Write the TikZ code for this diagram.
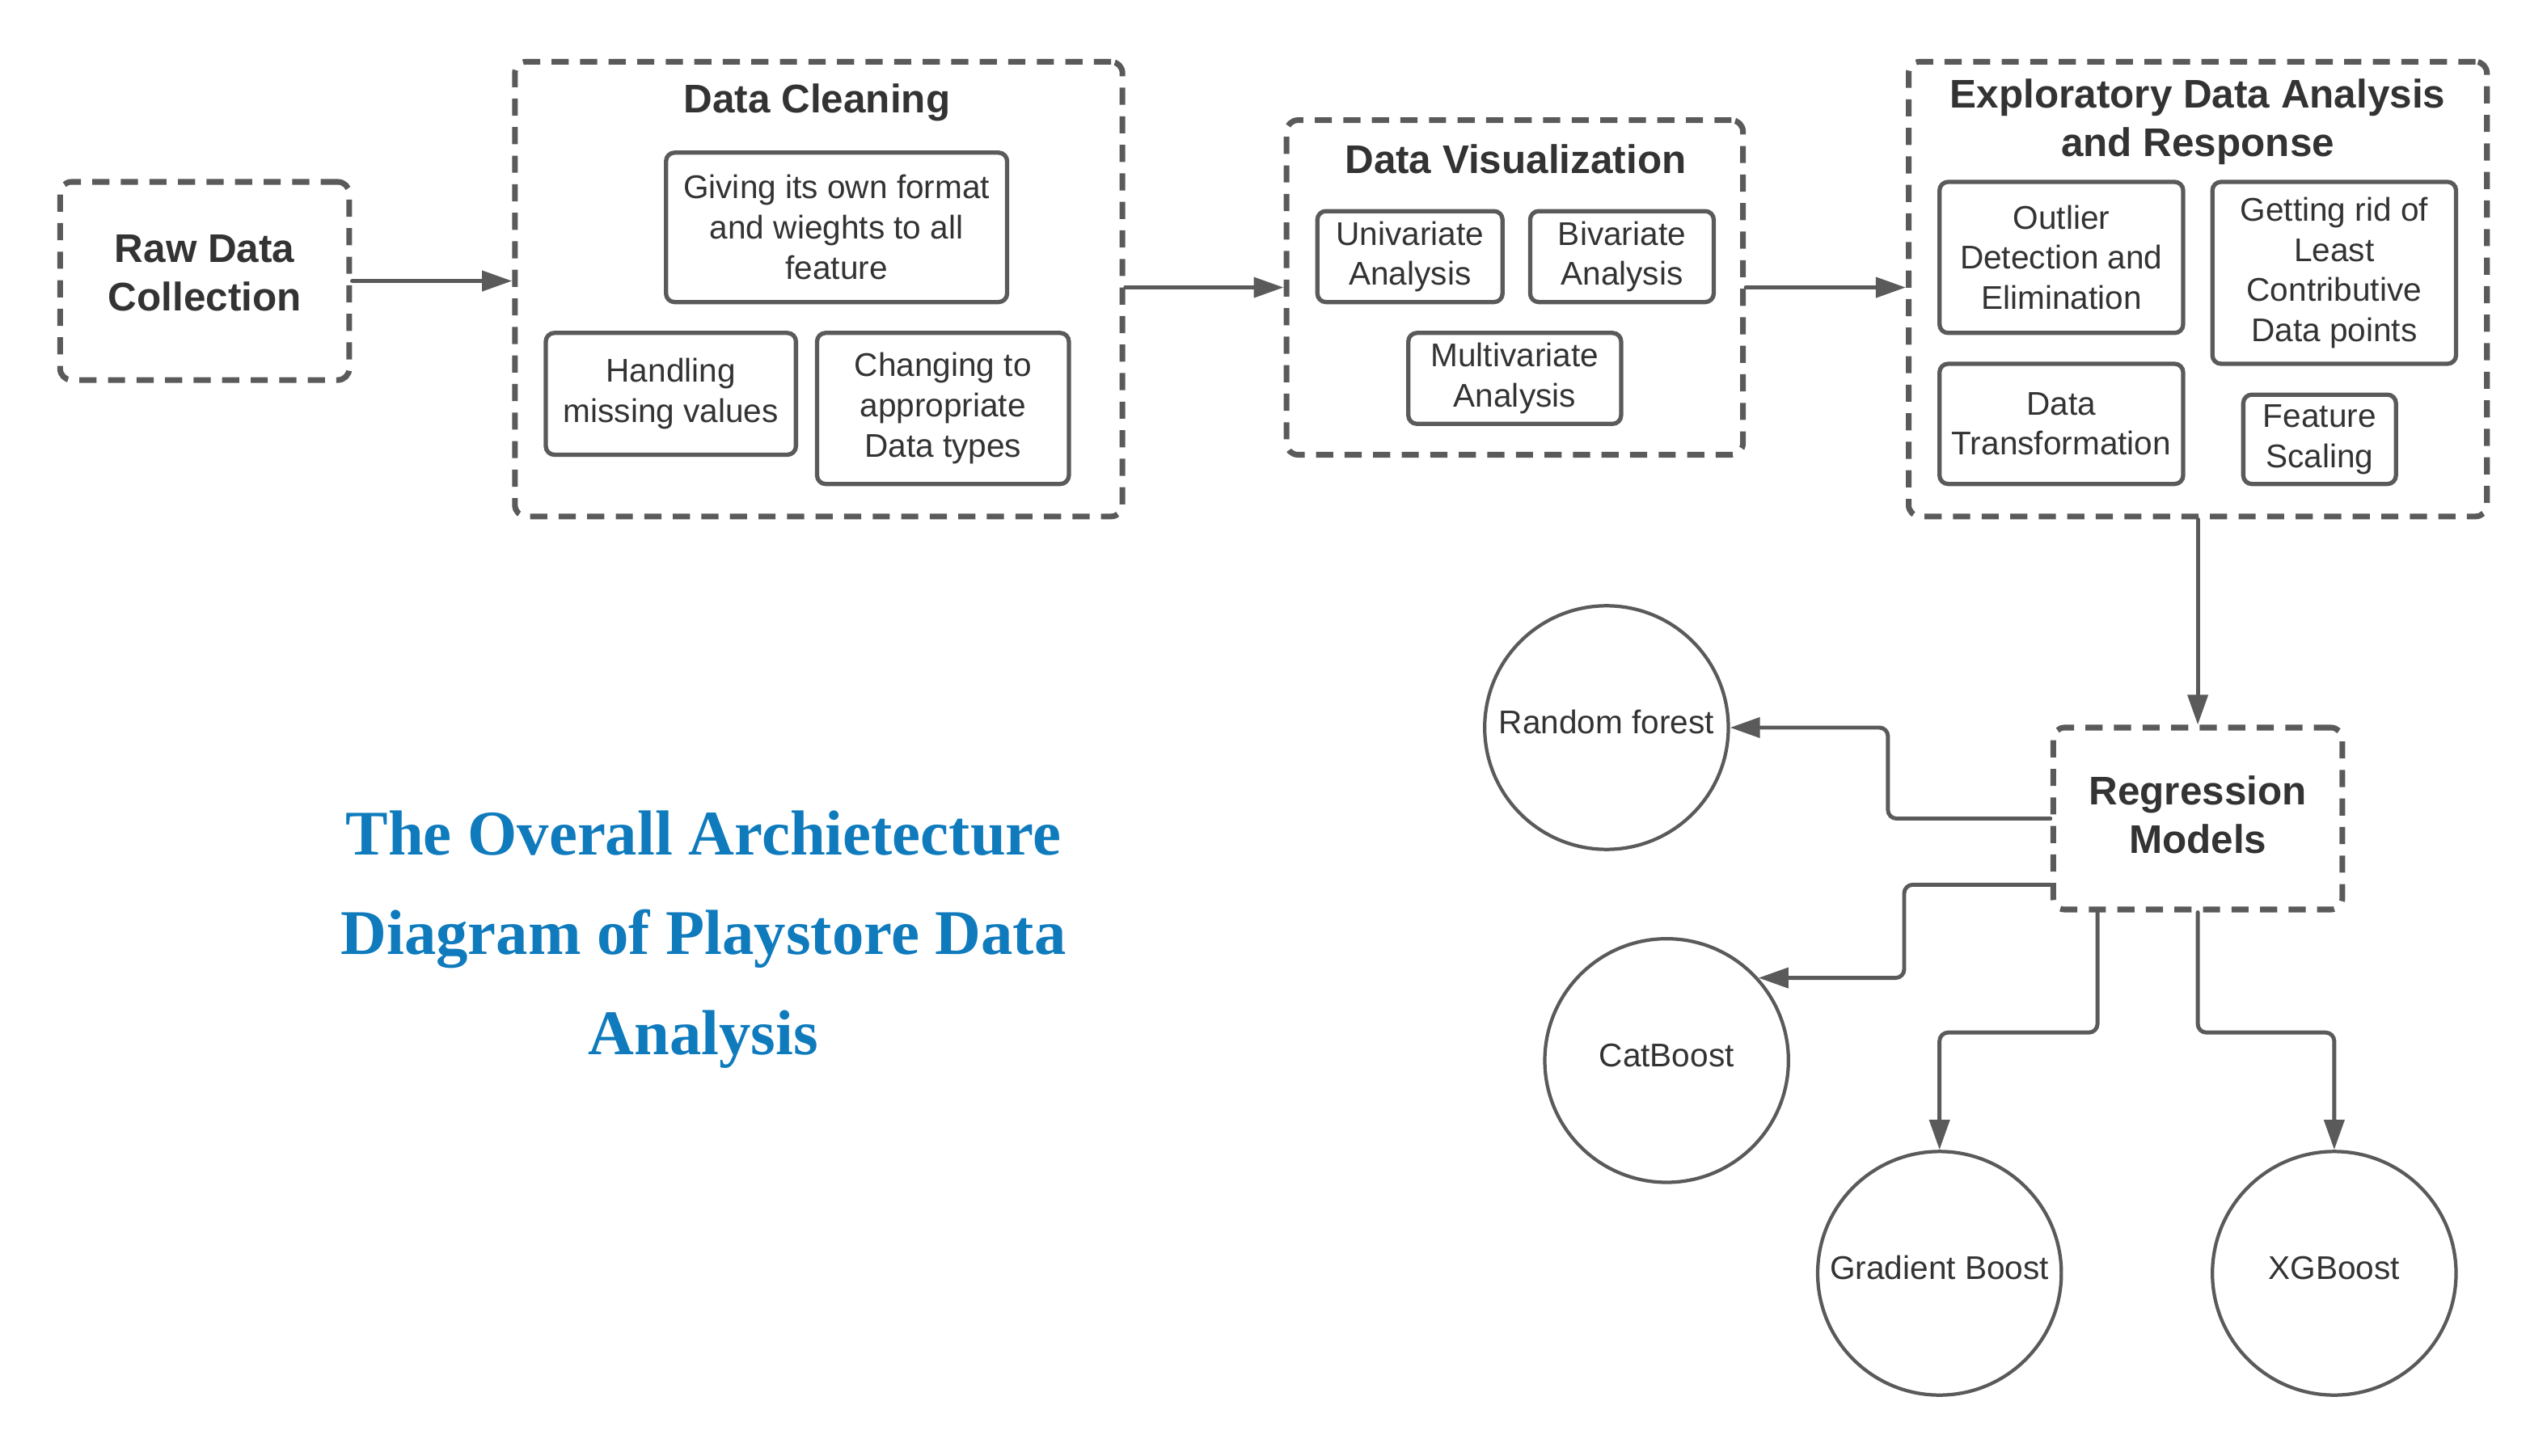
\documentclass[tikz,border=0pt]{standalone}
\usepackage{fontspec}
\setmainfont{Liberation Sans}
\newfontfamily\titlefont{Liberation Serif}
\usepackage{tikz}
\usetikzlibrary{arrows.meta}
\usepackage{xcolor}
\definecolor{linegray}{HTML}{5A5A5A}
\definecolor{textgray}{HTML}{333333}
\definecolor{titleblue}{HTML}{0F7BBD}

\begin{document}
\begin{tikzpicture}[>={Triangle[length=10.5pt,width=7pt]},line cap=round,
  group/.style={draw=linegray,line width=2pt,line cap=butt,dash pattern=on 6pt off 4pt,rounded corners=4pt},
  heading/.style={align=center,text=textgray,font=\fontsize{14}{17}\selectfont\bfseries},
  task/.style={draw=linegray,line width=1.5pt,rounded corners=3pt,align=center,inner sep=0pt,text=textgray,font=\fontsize{11.5}{14.1}\selectfont},
  model/.style={circle,draw=linegray,line width=1.2pt,minimum size=3cm,inner sep=0pt,text height=8.5pt,text depth=4pt,text=textgray,font=\fontsize{11.5}{14.1}\selectfont},
  flow/.style={->,draw=linegray,line width=1.4pt,rounded corners=3pt}]
\useasboundingbox (0,0) rectangle (31.36,17.92);

\node[group,minimum width=3.56cm,minimum height=2.44cm] (raw) at (2.52,14.46) {};
\node[heading] (rawhead) at (2.52,14.56) {Raw Data\\Collection};

\node[group,minimum width=7.48cm,minimum height=5.6cm] (clean) at (10.08,14.36) {};
\node[heading] (cleanhead) at (10.06,16.66) {Data Cleaning};
\node[task,minimum width=4.2cm,minimum height=1.84cm] (format) at (10.3,15.12) {Giving its own format\\and wieghts to all\\feature};
\node[task,minimum width=3.08cm,minimum height=1.5cm] (missing) at (8.26,13.07) {Handling\\missing values};
\node[task,minimum width=3.1cm,minimum height=1.86cm] (dtypes) at (11.61,12.89) {Changing to\\appropriate\\Data types};

\node[group,minimum width=5.62cm,minimum height=4.12cm] (vis) at (18.65,14.38) {};
\node[heading] (vishead) at (18.66,15.96) {Data Visualization};
\node[task,minimum width=2.28cm,minimum height=1.12cm] (uni) at (17.36,14.76) {Univariate\\Analysis};
\node[task,minimum width=2.26cm,minimum height=1.12cm] (bi) at (19.97,14.76) {Bivariate\\Analysis};
\node[task,minimum width=2.62cm,minimum height=1.12cm] (multi) at (18.65,13.26) {Multivariate\\Analysis};

\node[group,minimum width=7.12cm,minimum height=5.6cm] (eda) at (27.06,14.36) {};
\node[heading] (edahead) at (27.06,16.42) {Exploratory Data Analysis\\and Response};
\node[task,minimum width=3cm,minimum height=1.86cm] (outlier) at (25.38,14.75) {Outlier\\Detection and\\Elimination};
\node[task,minimum width=3cm,minimum height=2.24cm] (least) at (28.74,14.56) {Getting rid of\\Least\\Contributive\\Data points};
\node[task,minimum width=3cm,minimum height=1.48cm] (trans) at (25.38,12.70) {Data\\Transformation};
\node[task,minimum width=1.88cm,minimum height=1.1cm] (scaling) at (28.56,12.51) {Feature\\Scaling};

\node[group,minimum width=3.56cm,minimum height=2.24cm] (reg) at (27.06,7.84) {};
\node[heading] (reghead) at (27.06,7.89) {Regression\\Models};

\node[model] (rf) at (19.78,8.96) {Random forest};
\node[model] (cat) at (20.52,4.86) {CatBoost};
\node[model] (gb) at (23.88,2.24) {Gradient Boost};
\node[model] (xg) at (28.74,2.24) {XGBoost};

\node[align=center,text=titleblue,font=\titlefont\fontsize{22.3}{35}\selectfont\bfseries] (title) at (8.66,6.35) {The Overall Archietecture\\Diagram of Playstore Data\\Analysis};

\draw[flow] (raw.east) -- (raw.east -| clean.west);
\draw[flow] (vis.west -| clean.east) -- (vis.west);
\draw[flow] (vis.east) -- (vis.east -| eda.west);
\draw[flow] (eda.south) -- (reg.north);
\draw[flow] (reg.west) -- ++(-2,0) |- (rf.east);
\draw[flow] ([yshift=.34cm]reg.south west) -- ++(-1.8,0) |- (cat.42);
\draw[flow] ([xshift=.58cm]reg.south west) -- ++(0,-1.48) -| (gb.north);
\draw[flow] (reg.south) -- ++(0,-1.48) -| (xg.north);
\end{tikzpicture}
\end{document}
